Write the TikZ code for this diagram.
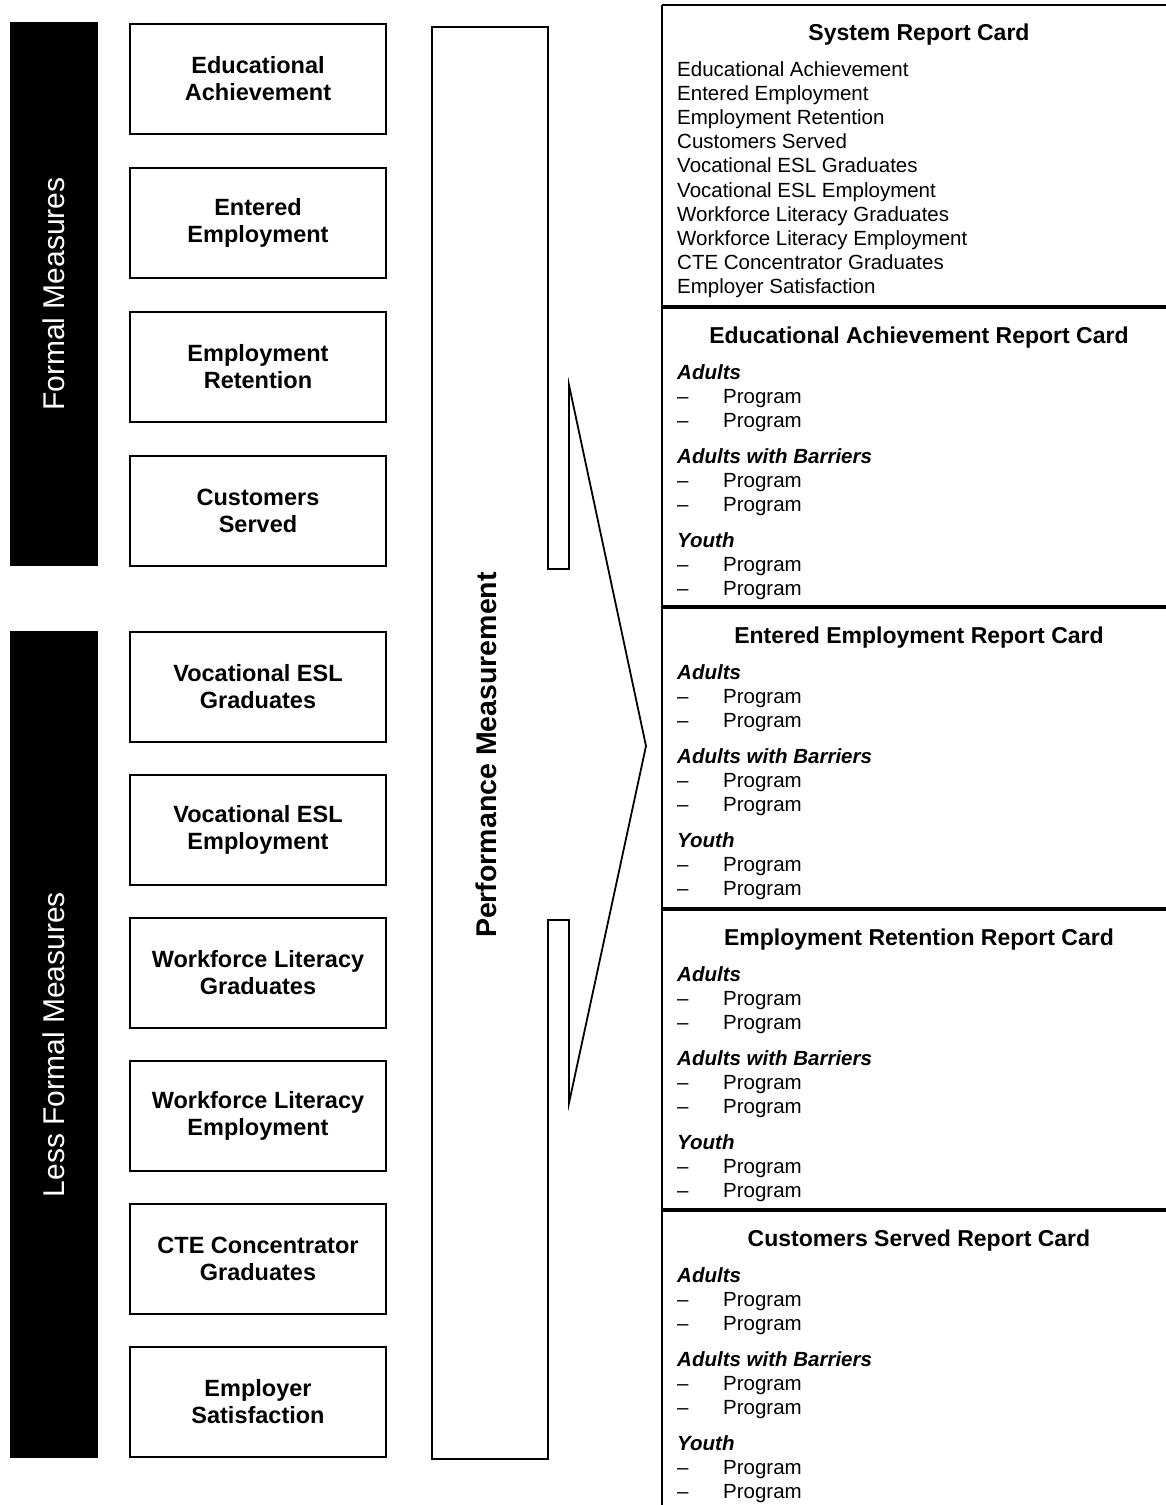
\documentclass[tikz,border=0pt]{standalone}
\usepackage{fontspec}
\setmainfont{Liberation Sans}
\usetikzlibrary{positioning}

\newcommand{\prog}{\makebox[46pt][l]{--}Program}
\newcommand{\cardlist}{\textbf{\textit{Adults}}\\\prog\\\prog\\[11.5pt]
  \textbf{\textit{Adults with Barriers}}\\\prog\\\prog\\[11.5pt]
  \textbf{\textit{Youth}}\\\prog\\\prog}

\begin{document}
\begin{tikzpicture}[
  x=1pt, y=-1pt,
  node distance=34pt,
  measure/.style={
    draw=black,
    line width=1.4pt,
    outer sep=0pt,
    minimum width=256pt,
    minimum height=110pt,
    align=center,
    font=\bfseries\fontsize{23.5}{27}\selectfont
  },
  bar/.style={
    fill=black,
    text=white,
    rotate=90,
    minimum height=88pt,
    inner sep=0pt,
    outer sep=0pt,
    font=\fontsize{30}{36}\selectfont
  },
  cardtitle/.style={anchor=base, inner sep=0pt, font=\bfseries\fontsize{23}{27}\selectfont},
  % base of a multi-line node is its last line
  cardbody/.style={anchor=base west, align=left, inner sep=0pt, font=\fontsize{20.5}{24.2}\selectfont},
  outline/.style={line width=1.8pt, line join=miter},
  divider/.style={line width=4.5pt}
]
\useasboundingbox (0,0) rectangle (1166,1505);

% side bars
\node[bar, minimum width=544pt] (formal) at (54,294) {Formal Measures};
\node[bar, minimum width=827pt] (lessformal) at (54,1044.5) {Less Formal Measures};

% measures
\node[measure] (edach) at (258,79) {Educational\\Achievement};
\node[measure, below=of edach] (entemp) {Entered\\Employment};
\node[measure, below=of entemp] (empret) {Employment\\Retention};
\node[measure, below=of empret] (custserv) {Customers\\Served};

\node[measure] (eslgrad) at (258,687) {Vocational ESL\\Graduates};
\node[measure, below=33pt of eslgrad] (eslemp) {Vocational ESL\\Employment};
\node[measure, below=33pt of eslemp] (wflgrad) {Workforce Literacy\\Graduates};
\node[measure, below=33pt of wflgrad] (wflemp) {Workforce Literacy\\Employment};
\node[measure, below=33pt of wflemp] (ctegrad) {CTE Concentrator\\Graduates};
\node[measure, below=33pt of ctegrad] (empsat) {Employer\\Satisfaction};

% performance measurement arrow
\draw[outline] (432,27) -- (548,27) -- (548,569) -- (569,569) -- (569,385)
  -- (646,746) -- (569,1103) -- (569,920) -- (548,920) -- (548,1459)
  -- (432,1459) -- cycle;
\node[rotate=90, font=\bfseries\fontsize{28.5}{34}\selectfont] (perf) at (486,755) {Performance Measurement};

% report cards
\draw[line width=2.5pt] (662,5) -- (1166,5);
\draw[outline] (662,5) -- (662,1505);
\draw[divider] (662,307) -- (1166,307);
\draw[divider] (662,607) -- (1166,607);
\draw[divider] (662,909) -- (1166,909);
\draw[divider] (662,1210) -- (1166,1210);

\node[cardtitle] (systitle) at (919,40) {System Report Card};
\node[cardbody] (syslist) at (677,293.8) {Educational Achievement\\Entered Employment\\
  Employment Retention\\Customers Served\\Vocational ESL Graduates\\
  Vocational ESL Employment\\Workforce Literacy Graduates\\
  Workforce Literacy Employment\\CTE Concentrator Graduates\\Employer Satisfaction};

\node[cardtitle] (edtitle) at (919,343) {Educational Achievement Report Card};
\node[cardbody] (edlist) at (677,595.6) {\cardlist};

\node[cardtitle] (enttitle) at (919,643) {Entered Employment Report Card};
\node[cardbody] (entlist) at (677,895.6) {\cardlist};

\node[cardtitle] (rettitle) at (919,945) {Employment Retention Report Card};
\node[cardbody] (retlist) at (677,1197.6) {\cardlist};

\node[cardtitle] (custtitle) at (919,1246) {Customers Served Report Card};
\node[cardbody] (custlist) at (677,1498.6) {\cardlist};

\end{tikzpicture}
\end{document}
